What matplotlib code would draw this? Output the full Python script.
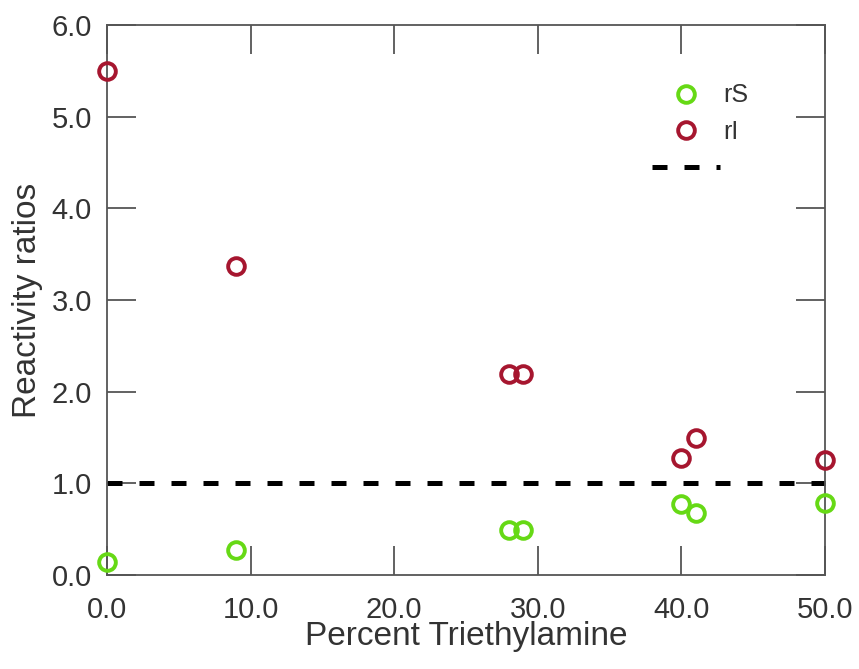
import matplotlib
matplotlib.use("Agg")
import matplotlib.pyplot as plt

plt.rcParams['font.family'] = ['Liberation Sans', 'DejaVu Sans']

# data
percent = [0, 9, 28, 29, 40, 41, 50]
rS = [0.14, 0.27, 0.49, 0.49, 0.78, 0.68, 0.79]
rI = [5.50, 3.37, 2.19, 2.19, 1.28, 1.49, 1.26]
ref_x = [0, 50]
ref_y = [1.0, 1.0]

xticks = [0, 10, 20, 30, 40, 50]
yticks = [0, 1, 2, 3, 4, 5, 6]

green = '#66d915'
red = '#a6162f'
txt = '#333333'
axc = '#555555'

fig = plt.figure(figsize=(8.59, 6.69), dpi=100)
ax = fig.add_axes([0.1246, 0.1405, 0.8358, 0.8221])

line, = ax.plot(ref_x, ref_y, color='black', lw=3.6, dashes=(3.0, 3.4),
                clip_on=False, zorder=2)
s1, = ax.plot(percent, rS, 'o', ms=12, mfc='none', mec=green, mew=2.8,
              clip_on=False, zorder=3)
s2, = ax.plot(percent, rI, 'o', ms=12, mfc='none', mec=red, mew=2.8,
              clip_on=False, zorder=3)

ax.set_xlim(0, 50)
ax.set_ylim(0, 6)
ax.set_xticks(xticks)
ax.set_xticklabels([f'{v:.1f}' for v in xticks])
ax.set_yticks(yticks)
ax.set_yticklabels([f'{v:.1f}' for v in yticks])

ax.tick_params(direction='in', length=21, width=1.3, color=axc,
               top=True, right=True, labelsize=21, labelcolor=txt)
ax.tick_params(axis='x', pad=15)
ax.tick_params(axis='y', pad=11)
for sp in ax.spines.values():
    sp.set_color(axc)
    sp.set_linewidth(1.3)

ax.set_xlabel('Percent Triethylamine', fontsize=24, color=txt, labelpad=-2)
ax.set_ylabel('Reactivity ratios', fontsize=24, color=txt, labelpad=6)

leg = ax.legend([s1, s2, line], ['rS', 'rI', ''], loc='upper right',
                bbox_to_anchor=(0.925, 0.935), frameon=False, fontsize=18,
                handlelength=2.7, handletextpad=0.15, labelspacing=0.5,
                numpoints=1)
for t in leg.get_texts():
    t.set_color(txt)

fig.savefig('out.png', dpi=100)
